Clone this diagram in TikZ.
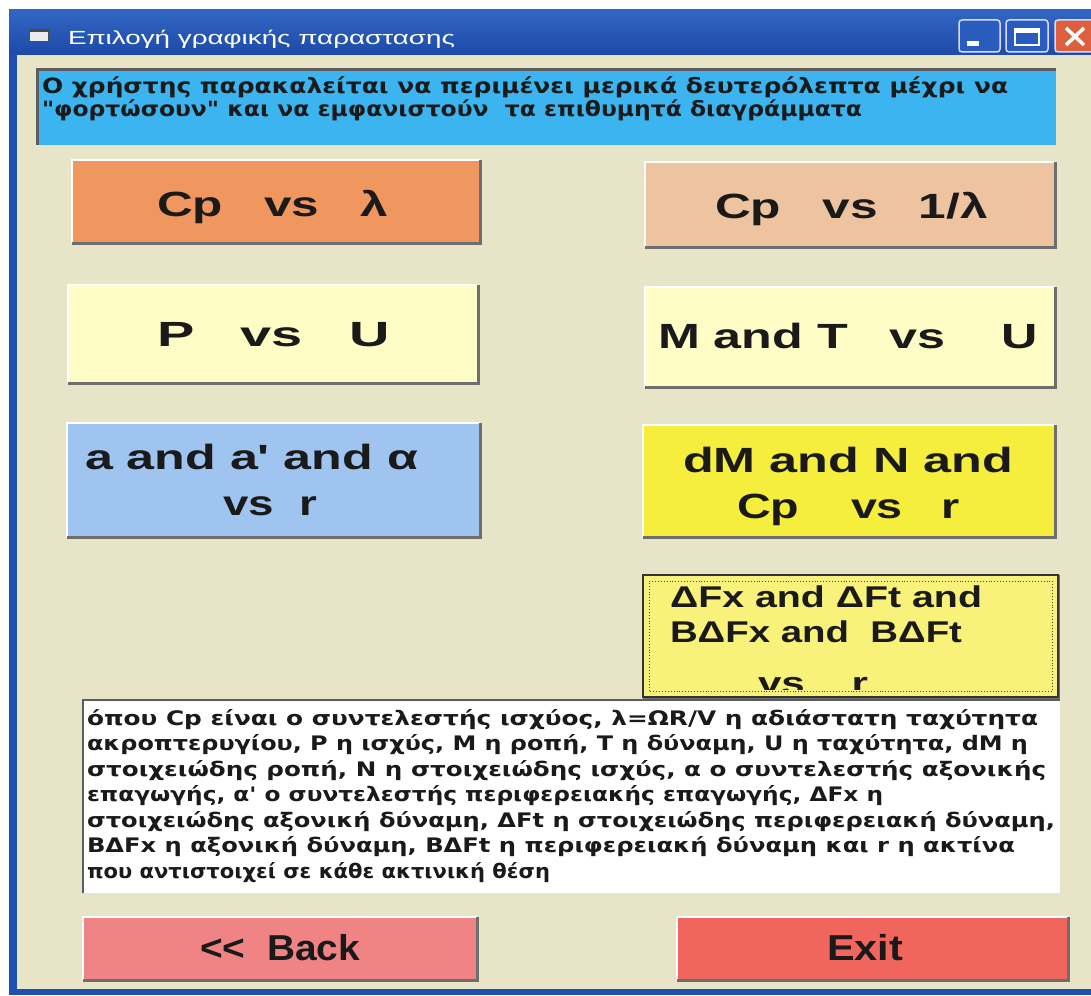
\documentclass[tikz,border=0pt]{standalone}
\usepackage{fontspec}
\usepackage{graphicx}
\usetikzlibrary{fit}
\newfontfamily\lsans{Liberation Sans}
\newfontfamily\dvs{DejaVu Sans}

\definecolor{frameblue}{HTML}{1E50B4}
\definecolor{titletop}{HTML}{3366C4}
\definecolor{titlebot}{HTML}{1C4AA8}
\definecolor{capblue}{HTML}{2A5CC0}
\definecolor{closered}{HTML}{DE5F3E}
\definecolor{beige}{HTML}{E8E4C8}
\definecolor{infoblue}{HTML}{3CB4F0}
\definecolor{orangebtn}{HTML}{F0965F}
\definecolor{peachbtn}{HTML}{EEC4A0}
\definecolor{creambtn}{HTML}{FFFDC6}
\definecolor{bluebtn}{HTML}{A0C4F0}
\definecolor{yellowbtn}{HTML}{F5EE3C}
\definecolor{paleyellow}{HTML}{F8F27A}
\definecolor{backbtn}{HTML}{F08484}
\definecolor{exitbtn}{HTML}{F0665C}
\definecolor{shadowgray}{HTML}{6E6E6E}
\definecolor{sunkgray}{HTML}{5C5C5C}
\definecolor{textdark}{HTML}{1A1A1A}

% scale a piece of text horizontally to a given width (in pt)
\newsavebox\fitbox
\newcommand\xfit[2]{\sbox\fitbox{#2}\pgfmathsetmacro\fitfac{#1/\the\wd\fitbox}\scalebox{\fitfac}[1]{\usebox\fitbox}}

\tikzset{
  box/.style={inner sep=0pt, outer sep=0pt},
  lbl/.style={anchor=base west, inner sep=0pt, outer sep=0pt, text=textdark},
  btnfont/.style={font=\lsans\bfseries\fontsize{35}{35}\selectfont},
  navfont/.style={font=\lsans\bfseries\fontsize{36}{36}\selectfont},
  dfxfont/.style={font=\lsans\bfseries\fontsize{30}{30}\selectfont},
  infofont/.style={font=\dvs\bfseries\fontsize{21}{21}\selectfont},
  notefont/.style={font=\dvs\bfseries\fontsize{20}{20}\selectfont},
  hilite/.style={draw=white, line width=1.5pt},
  shadowline/.style={draw=shadowgray, line width=3pt},
  sunk/.style={draw=sunkgray, line width=3pt},
}
\newcommand\raised[1]{%
  \draw[hilite] (#1.south west) -- (#1.north west) -- (#1.north east);
  \draw[shadowline] (#1.north east) -- (#1.south east) -- (#1.south west);}

\begin{document}
\begin{tikzpicture}[x=1pt,y=-1pt]
\useasboundingbox (0,0) rectangle (1091,995);
\fill[white] (0,0) rectangle (1091,995);

% window frame, caption bar and client area
\node[box, fit={(9,10) (1091,995)}, fill=frameblue] (frame) {};
\node[box, fit={(9,10) (1091,55)}, top color=titletop, bottom color=titlebot] (titlebar) {};
\node[box, fit={(17,55) (1091,989)}, fill=beige] (client) {};

% caption icon and text
\node[box, fit={(29,29) (48,41)}, fill=white!85!gray, draw=gray!60!black, line width=0.8pt] (icon) {};
\fill[gray!60!black] (29,29) rectangle (48,32);
\node[lbl, text=white, font=\lsans\fontsize{19}{19}\selectfont] (title) at (68,45)
  {\xfit{387}{Επιλογή γραφικής παραστασης}};

% caption buttons
\node[box, fit={(959,20) (1000,52)}, fill=capblue, draw=white!85!blue, line width=1.5pt, rounded corners=3pt] (minbtn) {};
\fill[white] (967,41) rectangle (979,46);
\node[box, fit={(1006,20) (1048,52)}, fill=capblue, draw=white!85!blue, line width=1.5pt, rounded corners=3pt] (maxbtn) {};
\draw[white, line width=1.5pt] (1015,29) rectangle (1039,45);
\fill[white] (1015,28) rectangle (1039,33);
\node[box, fit={(1055,20) (1100,52)}, fill=closered, draw=white!85!blue, line width=1.5pt, rounded corners=3pt] (closebtn) {};
\draw[white, line width=3.5pt] (1066,28) -- (1084,45) (1066,45) -- (1084,28);

% information label
\node[box, fit={(37,70) (1056,145)}, fill=infoblue] (info) {};
\draw[sunk] (info.south west) -- (info.north west) -- (info.north east);
\node[lbl, infofont] (info1) at (42,94)
  {\xfit{966}{Ο χρήστης παρακαλείται να περιμένει μερικά δευτερόλεπτα μέχρι να}};
\node[lbl, infofont] (info2) at (42,117)
  {\xfit{820}{"φορτώσουν" και να εμφανιστούν\ \ τα επιθυμητά διαγράμματα}};

% chart buttons
\node[box, fit={(72,160) (480,243)}, fill=orangebtn] (cpl) {};
\raised{cpl}
\node[lbl, btnfont] (cpl-t) at (157,216) {\xfit{231}{Cp\ \ \ vs\ \ \ λ}};

\node[box, fit={(645,162) (1055,247)}, fill=peachbtn] (cpil) {};
\raised{cpil}
\node[lbl, btnfont] (cpil-t) at (715,218) {\xfit{273}{Cp\ \ \ vs\ \ \ 1/λ}};

\node[box, fit={(68,285) (478,383)}, fill=creambtn] (pu) {};
\raised{pu}
\node[lbl, btnfont] (pu-t) at (157,346) {\xfit{233}{P\ \ \ vs\ \ \ U}};

\node[box, fit={(645,287) (1055,387)}, fill=creambtn] (mtu) {};
\raised{mtu}
\node[lbl, btnfont] (mtu-t) at (658,348) {\xfit{380}{M and T\ \ \ vs\ \ \ \ U}};

\node[box, fit={(67,423) (480,537)}, fill=bluebtn] (aar) {};
\raised{aar}
\node[lbl, btnfont] (aar-t1) at (85,469) {\xfit{333}{a and a' and α}};
\node[lbl, btnfont] (aar-t2) at (223,515) {\xfit{94}{vs\ \ r}};

\node[box, fit={(643,425) (1055,537)}, fill=yellowbtn] (dmn) {};
\raised{dmn}
\node[lbl, btnfont] (dmn-t1) at (683,472) {\xfit{330}{dM and N and}};
\node[lbl, btnfont] (dmn-t2) at (737,518) {\xfit{223}{Cp\ \ \ \ vs\ \ \ r}};

% focused button with dotted focus rectangle
\node[box, fit={(643,575) (1058,697)}, fill=paleyellow] (dfx) {};
\draw[shadowline] (dfx.north east) -- (dfx.south east) -- (dfx.south west);
\draw[draw=black!80, line width=2.5pt] (dfx.south west) rectangle (dfx.north east);
\draw[black!75, dotted, line width=0.9pt] ([shift={(6pt,6pt)}]dfx.south west) rectangle ([shift={(-6pt,-6pt)}]dfx.north east);
\node[lbl, dfxfont] (dfx-t1) at (670,607) {\xfit{312}{ΔFx and ΔFt and}};
\node[lbl, dfxfont] (dfx-t2) at (670,642) {\xfit{292}{BΔFx and\ \ BΔFt}};
\begin{scope}
  \clip ([shift={(3pt,8pt)}]dfx.south west) rectangle ([shift={(-3pt,-3pt)}]dfx.north east);
  \node[lbl, dfxfont] (dfx-t3) at (758,693) {\xfit{110}{vs\ \ \ \ r}};
\end{scope}

% explanatory text box
\node[box, fit={(83,700) (1060,893)}, fill=white] (notes) {};
\draw[sunkgray, line width=2.5pt] (notes.south west) -- (notes.north west) -- (notes.north east);
\node[lbl, notefont] (n1) at (87,725) {\xfit{951}{όπου Cp είναι ο συντελεστής ισχύος, λ=ΩR/V η αδιάστατη ταχύτητα}};
\node[lbl, notefont] (n2) at (87,750) {\xfit{941}{ακροπτερυγίου, P η ισχύς, M η ροπή, T η δύναμη, U η ταχύτητα, dM η}};
\node[lbl, notefont] (n3) at (87,776) {\xfit{959}{στοιχειώδης ροπή, N η στοιχειώδης ισχύς, α ο συντελεστής αξονικής}};
\node[lbl, notefont] (n4) at (87,801) {\xfit{796}{επαγωγής, α' ο συντελεστής περιφερειακής επαγωγής, ΔFx η}};
\node[lbl, notefont] (n5) at (87,827) {\xfit{968}{στοιχειώδης αξονική δύναμη, ΔFt η στοιχειώδης περιφερειακή δύναμη,}};
\node[lbl, notefont] (n6) at (87,852) {\xfit{928}{BΔFx η αξονική δύναμη, BΔFt η περιφερειακή δύναμη και r η ακτίνα}};
\node[lbl, notefont] (n7) at (87,878) {\xfit{463}{που αντιστοιχεί σε κάθε ακτινική θέση}};

% navigation buttons
\node[box, fit={(83,917) (477,980)}, fill=backbtn] (back) {};
\raised{back}
\node[lbl, navfont] (back-t) at (200,960) {\xfit{160}{<\kern0pt<\ \ Back}};
\node[box, fit={(677,917) (1068,980)}, fill=exitbtn] (exit) {};
\raised{exit}
\node[lbl, navfont] (exit-t) at (827,960) {\xfit{76}{Exit}};
\end{tikzpicture}
\end{document}
